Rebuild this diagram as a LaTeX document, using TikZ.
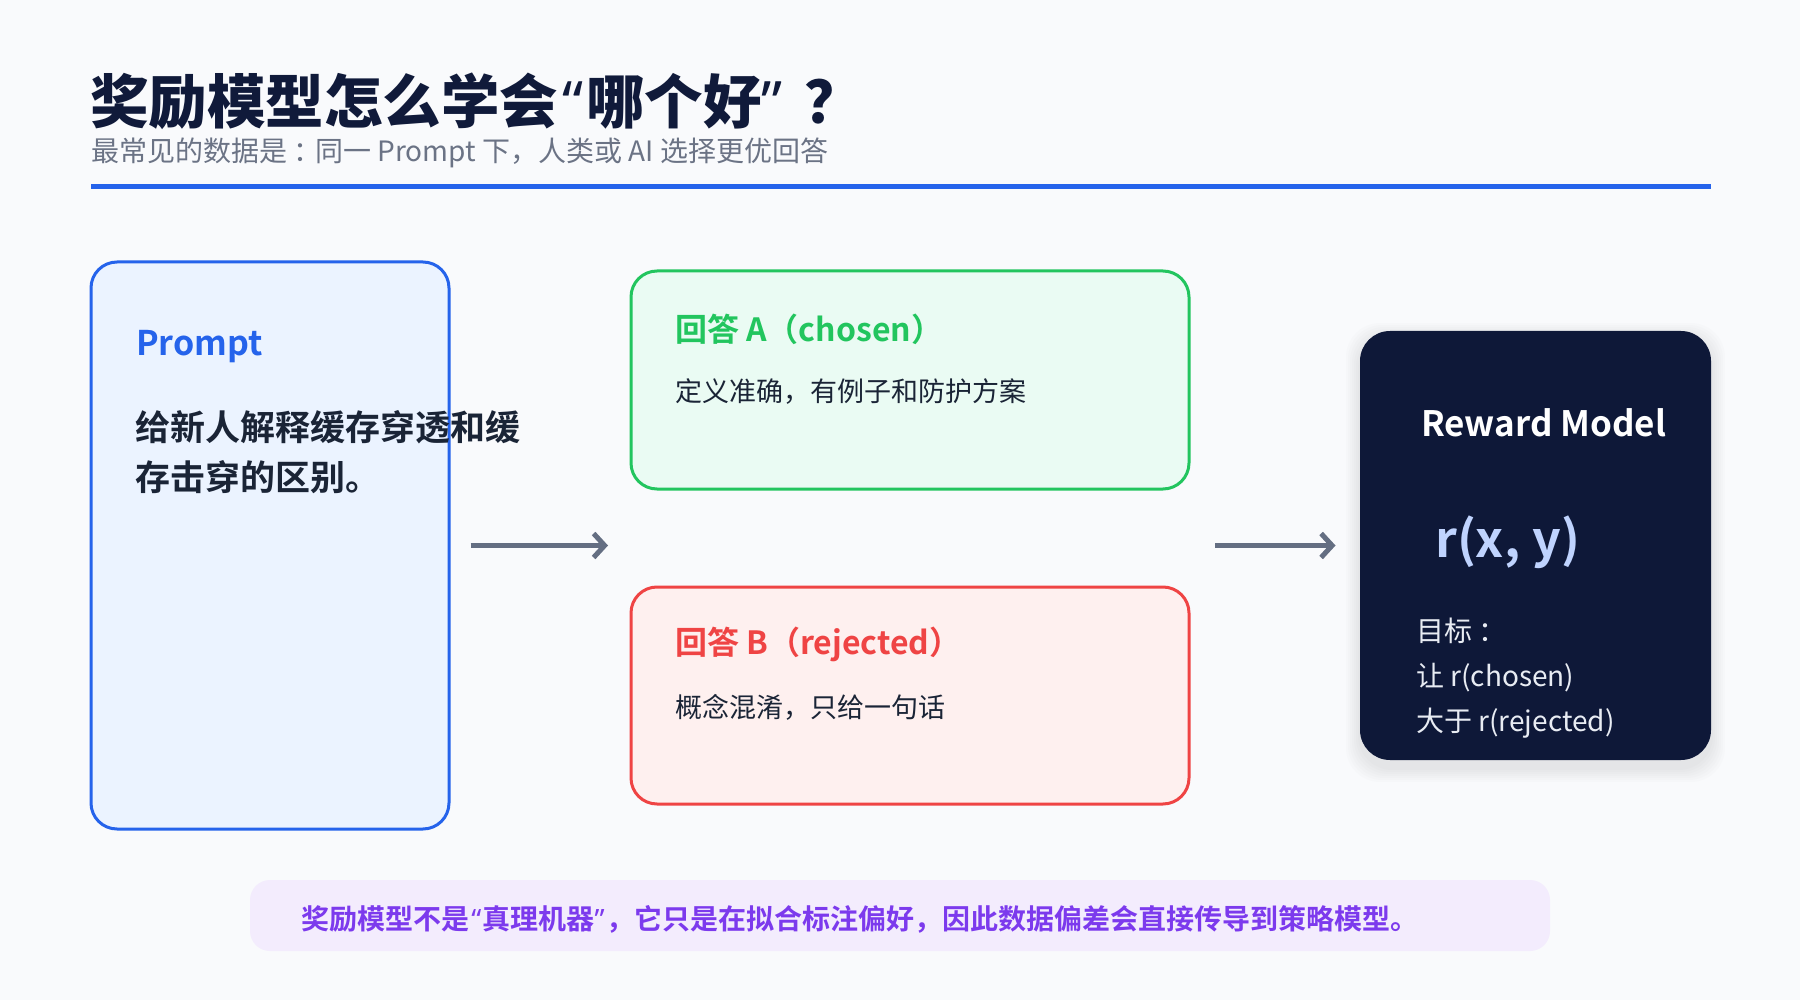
\documentclass[tikz,border=0pt]{standalone}
\usepackage{fontspec}
\setmainfont{Noto Sans CJK SC}[BoldFont={Noto Sans CJK SC Bold}]
\newfontfamily\quotefont{Noto Sans}
\newfontfamily\headfont{Noto Sans CJK SC Black}
\newcommand\openq{{\quotefont\hspace{.08em}“\hspace{.04em}}}
\newcommand\closeq{{\quotefont ”\hspace{.08em}}}
\newcommand\colonmark{\hspace{.22em}：\hspace{-.22em}}
\usetikzlibrary{arrows.meta}
\definecolor{bgcol}{HTML}{F9FAFC}
\definecolor{titlecol}{HTML}{101A3A}
\definecolor{subcol}{HTML}{6B7385}
\definecolor{bluecol}{HTML}{2563EB}
\definecolor{bluefill}{HTML}{EBF3FF}
\definecolor{greencol}{HTML}{22C55E}
\definecolor{greenfill}{HTML}{EAFBF3}
\definecolor{redcol}{HTML}{EF4444}
\definecolor{redfill}{HTML}{FEF0EF}
\definecolor{arrowcol}{HTML}{646E82}
\definecolor{navycol}{HTML}{0E1838}
\definecolor{rxycol}{HTML}{BFD3FE}
\definecolor{goalcol}{HTML}{E8ECF3}
\definecolor{textcol}{HTML}{1A2436}
\definecolor{footfill}{HTML}{F3ECFD}
\definecolor{footcol}{HTML}{7C3AED}
\tikzset{
  card/.style={rectangle, rounded corners=26pt, line width=3pt, inner sep=0pt},
  flow/.style={arrowcol, line width=5pt, -{Straight Barb[length=11pt,width=24pt]}},
  lbl/.style={anchor=west, inner sep=0pt, align=left}
}
\begin{document}
\begin{tikzpicture}[x=1pt,y=-1pt]
\fill[bgcol] (0,0) rectangle (1800,1000);
% heading
\node[lbl, font=\fontsize{58.5}{62}\selectfont\headfont, text=titlecol] (title) at (90,101) {奖励模型怎么学会\openq 哪个好\closeq\hspace{.3em}？};
\node[lbl, font=\fontsize{28}{32}\selectfont, text=subcol] (sub) at (91,153) {最常见的数据是\colonmark 同一 Prompt 下，人类或 AI 选择更优回答};
\draw[bluecol, line width=5pt] (91,187) -- (1711,187);
% prompt
\node[card, draw=bluecol, fill=bluefill, minimum width=358pt, minimum height=567pt] (prompt) at (270,545.5) {};
\node[lbl, font=\fontsize{34}{40}\selectfont\bfseries, text=bluecol] (promptTitle) at (136,347) {Prompt};
\node[lbl, font=\fontsize{35}{50}\selectfont\bfseries, text=textcol] (promptText) at (135,452) {给新人解释缓存穿透和缓\\存击穿的区别。};
% answers
\node[card, draw=greencol, fill=greenfill, minimum width=558pt, minimum height=218pt] (chosen) at (910,380) {};
\node[lbl, font=\fontsize{32}{36}\selectfont\bfseries, text=greencol] (chosenTitle) at (675,329) {回答 A（chosen）};
\node[lbl, font=\fontsize{27}{30}\selectfont, text=textcol] (chosenText) at (675,392) {定义准确，有例子和防护方案};
\node[card, draw=redcol, fill=redfill, minimum width=558pt, minimum height=217pt] (rejected) at (910,695.5) {};
\node[lbl, font=\fontsize{32}{36}\selectfont\bfseries, text=redcol] (rejectedTitle) at (675,644) {回答 B（rejected）};
\node[lbl, font=\fontsize{27}{30}\selectfont, text=textcol] (rejectedText) at (675,707) {概念混淆，只给一句话};
% reward model
\foreach \s in {4,8,...,28}
  \fill[black, opacity=0.012, rounded corners=34pt] (1360-\s/2,337-\s/2) rectangle (1711+\s/2,768+\s/2);
\node[card, fill=navycol, rounded corners=30pt, minimum width=351pt, minimum height=429pt] (rm) at (1535.5,545.5) {};
\node[lbl, font=\fontsize{35}{40}\selectfont\bfseries, text=white] (rmTitle) at (1421,423) {Reward Model};
\node[lbl, font=\fontsize{50}{56}\selectfont\bfseries, text=rxycol] (rxy) at (1435,542) {r(x, y)};
\node[lbl, font=\fontsize{28}{45}\selectfont, text=goalcol] (goal) at (1416,678) {目标\colonmark\\让 r(chosen)\\大于 r(rejected)};
% arrows
\coordinate (pairIn) at (608,545.5);
\coordinate (pairOut) at (1215,545.5);
\draw[flow] ([xshift=20pt]prompt.east) -- (pairIn);
\draw[flow] (pairOut) -- ([xshift=-23pt]rm.west);
% footer
\node[card, fill=footfill, rounded corners=20pt, minimum width=1300pt, minimum height=71pt] (foot) at (900,915.5) {};
\node[lbl, font=\fontsize{28}{32}\selectfont\bfseries, text=footcol] (footText) at (301,919) {奖励模型不是\openq 真理机器\closeq ，它只是在拟合标注偏好，因此数据偏差会直接传导到策略模型。};
\end{tikzpicture}
\end{document}
